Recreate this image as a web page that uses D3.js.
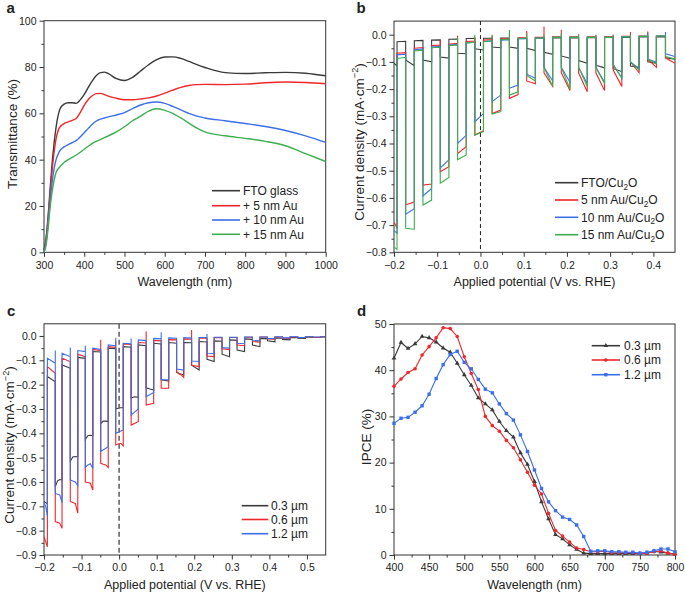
<!DOCTYPE html>
<html><head><meta charset="utf-8">
<script src="https://cdn.jsdelivr.net/npm/d3@7"></script>
<style>
body{margin:0;background:#fff}
text{font-family:"Liberation Sans",Arial,sans-serif;fill:#222}
</style>
</head><body>
<svg id="chart" width="685" height="593"></svg>
<script>
// ---------------- DATA ----------------
// Panel a: transmittance spectra
const aWl   = [300,305,310,315,320,325,330,335,340,350,360,370,380,390,400,410,420,430,440,450,460,480,500,520,540,560,580,600,620,640,660,680,700,750,800,850,900,950,1000];
const aFTO  = [1,6,15,27,38,47,54,59,62,64,64.6,64.6,64.3,65.8,68.2,71.2,74,76.3,77.6,77.8,77.1,75,74.2,75.5,78.3,81,83.2,84.3,84.4,83.7,82.4,81,79.8,77.6,77.2,77.5,77.7,77.3,76.2];
const aAu5  = [0.5,5,14,25,35,43,49,52.5,54.2,55.6,56.3,57,57.8,60.3,63.5,66,67.6,68.5,68.6,68.1,67.4,66.5,65.9,65.9,66.2,66.7,67.5,68.7,70,71.2,72,72.4,72.5,72.4,72.6,73.2,73.5,73.3,72.8];
const aAu10 = [0,4,12,22,30,36,40,42.3,44,45.5,46.5,47.3,48.2,49.8,51.6,53.5,55.3,56.7,57.5,58,58.5,59.3,60.3,62,63.6,64.6,64.9,64.3,63,61.5,60,58.8,58,56.8,55.6,54.3,52.6,50.3,47.5];
const aAu15 = [0,3,10,19,26,31,34.5,36,37,38.8,40,41,42,43.2,44.5,45.8,47,47.9,48.7,49.5,50.3,52,54.2,56.8,58.8,61,62,61.3,60,58,55.8,53.6,52,50.3,49.2,47.9,46,42.6,39.2];
const aLabels = ["FTO glass","+ 5 nm Au","+ 10 nm Au","+ 15 nm Au"];

// Panel b: chopped LSV (light-off / light-on potentials, V vs RHE)
const bOff = [-0.193,-0.153,-0.113,-0.073,-0.033,0.007,0.047,0.087,0.127,0.167,0.207,0.247,0.287,0.327,0.367,0.407];
const bOn  = [-0.173,-0.133,-0.093,-0.053,-0.013,0.027,0.067,0.107,0.147,0.187,0.227,0.267,0.307,0.347,0.387,0.428];
const bFtoLight = [[-0.105,-0.115],[-0.093,-0.114],[-0.093,-0.1],[-0.082,-0.086],[-0.068,-0.07],[-0.052,-0.056],[-0.045,-0.048],[-0.045,-0.05],[-0.05,-0.058],[-0.065,-0.072],[-0.078,-0.087],[-0.095,-0.105],[-0.112,-0.122],[-0.125,-0.135],[-0.115,-0.12],[-0.1,-0.105],[-0.085,-0.09]];
const bFtoDark  = [[-0.026,-0.024],[-0.022,-0.021],[-0.02,-0.019],[-0.017,-0.016],[-0.014,-0.013],[-0.013,-0.013],[-0.012,-0.012],[-0.012,-0.012],[-0.012,-0.012],[-0.012,-0.012],[-0.012,-0.012],[-0.011,-0.011],[-0.01,-0.01],[-0.01,-0.01],[-0.008,-0.008],[-0.008,-0.008]];
const bFtoSpike = [];
const bAu5Light = [[-0.69,-0.71],[-0.625,-0.615],[-0.553,-0.549],[-0.504,-0.485],[-0.437,-0.412],[-0.369,-0.353],[-0.29,-0.277],[-0.234,-0.22],[-0.17,-0.18],[-0.14,-0.19],[-0.14,-0.205],[-0.14,-0.21],[-0.14,-0.205],[-0.13,-0.19],[-0.1,-0.14],[-0.09,-0.12],[-0.085,-0.105]];
const bAu5Dark  = [[-0.068,-0.066],[-0.05,-0.047],[-0.04,-0.038],[-0.035,-0.032],[-0.025,-0.023],[-0.02,-0.018],[-0.015,-0.014],[-0.012,-0.011],[-0.01,-0.01],[-0.008,-0.008],[-0.008,-0.008],[-0.008,-0.008],[-0.008,-0.008],[-0.006,-0.006],[-0.005,-0.005],[-0.005,-0.005]];
const bAu5Spike = [null,null,-0.02,-0.004,-0.01,-0.003,0.005,0.014,0.03,0.018,0.002,0.0,0.0,0.01,0.012,0.0];
const bAu10Light = [[-0.72,-0.73],[-0.66,-0.64],[-0.593,-0.565],[-0.49,-0.46],[-0.40,-0.37],[-0.32,-0.29],[-0.246,-0.222],[-0.197,-0.185],[-0.145,-0.16],[-0.12,-0.17],[-0.12,-0.175],[-0.12,-0.18],[-0.12,-0.175],[-0.11,-0.16],[-0.1,-0.125],[-0.09,-0.1],[-0.07,-0.08]];
const bAu10Dark  = [[-0.074,-0.072],[-0.055,-0.052],[-0.045,-0.043],[-0.038,-0.036],[-0.03,-0.028],[-0.025,-0.023],[-0.02,-0.018],[-0.015,-0.014],[-0.012,-0.012],[-0.01,-0.01],[-0.01,-0.01],[-0.01,-0.01],[-0.01,-0.01],[-0.008,-0.008],[-0.006,-0.006],[-0.005,-0.005]];
const bAu10Spike = [null,null,null,null,null,null,null,null,null,null,null,null,null,null,0.008,0.01];
const bAu15Light = [[-0.78,-0.79],[-0.712,-0.715],[-0.626,-0.608],[-0.546,-0.525],[-0.46,-0.442],[-0.369,-0.356],[-0.292,-0.283],[-0.222,-0.21],[-0.15,-0.17],[-0.12,-0.19],[-0.12,-0.2],[-0.12,-0.19],[-0.12,-0.18],[-0.11,-0.16],[-0.1,-0.13],[-0.09,-0.105],[-0.08,-0.09]];
const bAu15Dark  = [[-0.087,-0.083],[-0.06,-0.057],[-0.048,-0.046],[-0.04,-0.038],[-0.03,-0.028],[-0.025,-0.023],[-0.018,-0.017],[-0.015,-0.014],[-0.012,-0.012],[-0.01,-0.01],[-0.01,-0.01],[-0.01,-0.01],[-0.01,-0.01],[-0.008,-0.008],[-0.006,-0.006],[-0.005,-0.005]];
const bAu15Spike = [null,null,null,-0.01,0.0,0.0,0.017,0.005,0.0,0.005,0.0,-0.002,0.0,0.0,0.0,0.0];

// Panel c: chopped LSV for Cu2O thickness (values sampled evenly across each light period)
const cOff = [-0.191,-0.152,-0.110,-0.070,-0.029,0.011,0.051,0.092,0.132,0.172,0.213,0.253,0.294,0.334,0.375,0.415,0.455,0.496,0.536];
const cOn  = [-0.170,-0.130,-0.090,-0.049,-0.009,0.032,0.072,0.112,0.153,0.193,0.234,0.274,0.314,0.355,0.395,0.435,0.476,0.516];
const c03Light = [[-0.68,-0.685,-0.69],[-0.62,-0.595,-0.59,-0.592],[-0.515,-0.497,-0.495,-0.497],[-0.425,-0.41,-0.408,-0.41],[-0.36,-0.35,-0.35,-0.352],[-0.3,-0.295,-0.295],[-0.255,-0.25,-0.252],[-0.213,-0.218,-0.222],[-0.18,-0.185],[-0.15,-0.16],[-0.12,-0.14],[-0.096,-0.105],[-0.075,-0.085],[-0.058,-0.064],[-0.037,-0.044],[-0.02,-0.024],[-0.014,-0.016],[-0.009,-0.01],[-0.006,-0.006]];
const c03Dark  = [[-0.167,-0.188],[-0.119,-0.133],[-0.088,-0.092],[-0.064,-0.066],[-0.05,-0.052],[-0.044,-0.046],[-0.037,-0.04],[-0.03,-0.033],[-0.027,-0.03],[-0.027,-0.028],[-0.023,-0.025],[-0.02,-0.022],[-0.016,-0.018],[-0.012,-0.014],[-0.01,-0.011],[-0.008,-0.009],[-0.006,-0.007],[-0.005,-0.005],[-0.004,-0.004]];
const c03Spike = [];
const c06Light = [[-0.825,-0.845,-0.866],[-0.763,-0.766,-0.77,-0.79],[-0.68,-0.684,-0.688,-0.728],[-0.6,-0.602,-0.605,-0.633],[-0.523,-0.527,-0.53,-0.54],[-0.448,-0.444,-0.441,-0.452],[-0.366,-0.352],[-0.284,-0.277],[-0.215,-0.215],[-0.147,-0.155,-0.16,-0.17],[-0.12,-0.126],[-0.082,-0.085],[-0.053,-0.056],[-0.037,-0.04],[-0.023,-0.025],[-0.012,-0.013],[-0.009,-0.01],[-0.006,-0.007],[-0.005,-0.005]];
const c06Dark  = [[-0.126,-0.153],[-0.092,-0.105],[-0.075,-0.085],[-0.055,-0.06],[-0.044,-0.047],[-0.033,-0.035],[-0.027,-0.029],[-0.018,-0.02],[-0.015,-0.016],[-0.012,-0.013],[-0.008,-0.009],[-0.007,-0.007],[-0.006,-0.006],[-0.005,-0.005],[-0.004,-0.004],[-0.004,-0.004],[-0.004,-0.004],[-0.003,-0.003],[-0.003,-0.003]];
const c06Spike = [null,null,null,-0.016,-0.02,null,0.018,null,null,0.025,null,null,null,null,null,null,null,null];
const c12Light = [[-0.685,-0.7,-0.74],[-0.647,-0.65,-0.653,-0.685],[-0.592,-0.596,-0.6,-0.615],[-0.54,-0.53,-0.525,-0.545],[-0.475,-0.455],[-0.4,-0.386],[-0.325,-0.3],[-0.25,-0.232],[-0.18,-0.18],[-0.136,-0.14],[-0.103,-0.105],[-0.071,-0.072],[-0.048,-0.05],[-0.03,-0.032],[-0.019,-0.02],[-0.01,-0.011],[-0.008,-0.008],[-0.006,-0.006],[-0.004,-0.004]];
const c12Dark  = [[-0.092,-0.112],[-0.071,-0.085],[-0.06,-0.064],[-0.05,-0.055],[-0.037,-0.04],[-0.03,-0.032],[-0.016,-0.019],[-0.01,-0.012],[-0.008,-0.009],[-0.007,-0.008],[-0.006,-0.006],[-0.005,-0.005],[-0.005,-0.005],[-0.004,-0.004],[-0.004,-0.004],[-0.003,-0.003],[-0.003,-0.003],[-0.003,-0.003],[-0.003,-0.003]];
const c12Spike = [-0.06,-0.047,-0.04,null,-0.007,-0.01,null,0.015,null,null,0.008,null,null,null,null,null,null,null];
const cLabels = ["0.3 µm","0.6 µm","1.2 µm"];

// Panel d: IPCE
const dWl  = [400,410,420,430,440,450,460,470,480,490,500,510,520,530,540,550,560,570,580,590,600,610,620,630,640,650,660,670,680,690,700,710,720,730,740,750,760,770,780,790,800];
const d03  = [42.6,46.0,44.7,45.7,47.3,47.0,46.1,44.8,43.9,41.5,39.0,36.7,34.0,32.7,31.4,28.9,26.9,25.5,22.1,19.6,15.9,11.5,7.8,4.4,3.5,2.2,1.2,0.4,0.3,0.3,0.3,0.3,0.3,0.3,0.3,0.3,0.4,0.8,0.6,0.4,0.2];
const d06  = [36.5,38.1,39.5,40.3,43.3,45.1,47.0,49.2,49.0,47.3,42.9,39.3,35.8,30.0,28.0,26.8,24.8,23.2,20.6,17.9,15.1,13.2,9.0,5.3,4.1,2.8,1.5,1.2,0.7,0.7,0.8,0.5,0.5,0.5,0.5,0.3,0.4,0.7,0.9,0.4,0.2];
const d12  = [28.5,29.6,29.8,30.9,32.3,34.8,38.2,41.2,43.4,44.1,41.7,40.3,38.0,35.9,35.1,32.7,30.6,29.2,26.0,22.4,18.4,14.4,11.5,9.6,8.2,7.7,6.5,4.0,0.8,0.9,0.9,0.7,0.7,0.6,0.6,0.4,0.6,0.9,1.3,1.3,0.7];

// ---------------- STYLE ----------------
const COL = {k:"#3a3a3a", r:"#f0262b", b:"#3b6fe9", g:"#3cae4f"};
const FONT = '"Liberation Sans",Arial,sans-serif';
const YT = 13.5;
const svg = d3.select("#chart");

function drawAxes(g, xs, ys, o){
  const [x0,x1] = xs.range(), [y0,y1] = ys.range();
  const style = s => { s.select(".domain").remove(); s.attr("font-size",10.5).attr("font-family",FONT);
    s.selectAll("line").attr("stroke","#333"); s.selectAll("text").attr("fill","#222"); };
  g.append("g").attr("transform",`translate(0,${y0})`)
    .call(d3.axisBottom(xs).tickValues(o.xMinor).tickSize(2.5).tickFormat("")).call(style);
  g.append("g").attr("transform",`translate(0,${y0})`)
    .call(d3.axisBottom(xs).tickValues(o.xTicks).tickSize(4.5).tickPadding(4.5).tickFormat(o.xFmt)).call(style);
  g.append("g").attr("transform",`translate(${x0},0)`)
    .call(d3.axisLeft(ys).tickValues(o.yMinor).tickSize(2.5).tickFormat("")).call(style);
  g.append("g").attr("transform",`translate(${x0},0)`)
    .call(d3.axisLeft(ys).tickValues(o.yTicks).tickSize(4.5).tickPadding(3).tickFormat(o.yFmt)).call(style);
  g.append("rect").attr("x",x0).attr("y",y1).attr("width",x1-x0).attr("height",y0-y1)
    .attr("fill","none").attr("stroke","#333").attr("stroke-width",1);
}
function titles(g, xs, ys, xt, xtY, ytX, ytY, yParts, letter, lx, ly){
  const [x0,x1] = xs.range();
  g.append("text").attr("x",(x0+x1)/2).attr("y",xtY).attr("text-anchor","middle").attr("font-size",12.5).text(xt);
  const t = g.append("text").attr("transform",`translate(${ytX},${ytY}) rotate(-90)`).attr("text-anchor","middle").attr("font-size",YT);
  rich(t, yParts, YT);
  g.append("text").attr("x",lx).attr("y",ly).attr("font-size",15).attr("font-weight","bold").text(letter);
}
function rich(t, parts, size){
  parts.forEach(p=>{
    const s = t.append("tspan").text(p.t);
    if(p.sub){ s.attr("font-size",size*0.68).attr("dy",size*0.22); }
    else if(p.sup){ s.attr("font-size",size*0.68).attr("dy",-size*0.38); }
    if(p.back) s.attr("dy",p.back*size);
  });
}
function legend(g, x0, x1, tx, rows, size){
  rows.forEach(r=>{
    g.append("line").attr("x1",x0).attr("x2",x1).attr("y1",r.y).attr("y2",r.y).attr("stroke",r.c).attr("stroke-width",1.6);
    if(r.sym) r.sym(g,(x0+x1)/2,r.y);
    const t = g.append("text").attr("x",tx).attr("y",r.y+4.3).attr("font-size",size);
    rich(t, r.parts, size);
  });
}
// builds the chopped-light trace: light period, dark period, optional transient at light-on, ...
function chopPoints(xmin,xmax,offs,ons,light,dark,spikes){
  const pts=[];
  const addLight=(v,a,b)=>{ v.forEach((val,i)=>pts.push([a+(b-a)*i/(v.length-1),val])); };
  addLight(light[0],xmin,offs[0]);
  for(let k=0;k<offs.length;k++){
    const end = k<ons.length ? ons[k] : xmax;
    pts.push([offs[k],dark[k][0]]);
    pts.push([end,dark[k][1]]);
    if(k<ons.length){
      if(spikes[k]!=null) pts.push([end,spikes[k]]);
      addLight(light[k+1],ons[k],k+1<offs.length?offs[k+1]:xmax);
    }
  }
  return pts;
}
const cu2o = pre => [{t:pre+"Cu"},{t:"2",sub:true},{t:"O",back:-0.22}];
const cdTitle = [{t:"Current density (mA·cm"},{t:"−2",sup:true},{t:")",back:0.38}];

// ---------------- PANEL A ----------------
{
  const g = svg.append("g");
  const xs = d3.scaleLinear().domain([300,1000]).range([44,325.7]);
  const ys = d3.scaleLinear().domain([0,100]).range([252.3,20.7]);
  drawAxes(g,xs,ys,{xTicks:d3.range(300,1001,100),xMinor:d3.range(350,1000,100),xFmt:d3.format("d"),
    yTicks:d3.range(0,101,20),yMinor:d3.range(10,100,20),yFmt:d3.format("d")});
  const ln = d3.line().x((d,i)=>xs(aWl[i])).y(d=>ys(d)).curve(d3.curveMonotoneX);
  [[aFTO,COL.k],[aAu5,COL.r],[aAu10,COL.b],[aAu15,COL.g]].forEach(([s,c])=>{
    g.append("path").attr("d",ln(s)).attr("fill","none").attr("stroke",c).attr("stroke-width",1.4);
  });
  legend(g,212,240,243,[
    {y:190.7,c:COL.k,parts:[{t:aLabels[0]}]},
    {y:205.7,c:COL.r,parts:[{t:aLabels[1]}]},
    {y:220,c:COL.b,parts:[{t:aLabels[2]}]},
    {y:234.3,c:COL.g,parts:[{t:aLabels[3]}]}],12);
  titles(g,xs,ys,"Wavelength (nm)",286,16.5,134,[{t:"Transmittance (%)"}],"a",6.5,12.5);
}

// ---------------- PANEL B ----------------
{
  const g = svg.append("g");
  const xs = d3.scaleLinear().domain([-0.2,0.45]).range([394,675]);
  const ys = d3.scaleLinear().domain([-0.8,0.05]).range([252.3,21.1]);
  drawAxes(g,xs,ys,{xTicks:[-0.2,-0.1,0,0.1,0.2,0.3,0.4],xMinor:[-0.15,-0.05,0.05,0.15,0.25,0.35],xFmt:d3.format(".1f"),
    yTicks:[-0.8,-0.7,-0.6,-0.5,-0.4,-0.3,-0.2,-0.1,0],yMinor:[-0.75,-0.65,-0.55,-0.45,-0.35,-0.25,-0.15,-0.05],yFmt:d3.format(".1f")});
  svg.append("clipPath").attr("id","clipB").append("rect").attr("x",394).attr("y",21.1).attr("width",281).attr("height",231.2);
  const pg = g.append("g").attr("clip-path","url(#clipB)");
  const ln = d3.line().x(d=>xs(d[0])).y(d=>ys(d[1]));
  [[bFtoLight,bFtoDark,bFtoSpike,COL.k],[bAu5Light,bAu5Dark,bAu5Spike,COL.r],
   [bAu10Light,bAu10Dark,bAu10Spike,COL.b],[bAu15Light,bAu15Dark,bAu15Spike,COL.g]].forEach(([L,D,S,c])=>{
    pg.append("path").attr("d",ln(chopPoints(-0.2,0.45,bOff,bOn,L,D,S))).attr("fill","none").attr("stroke",c).attr("stroke-width",1.1);
  });
  g.append("line").attr("x1",xs(0)).attr("x2",xs(0)).attr("y1",21.1).attr("y2",252.3)
    .attr("stroke","#222").attr("stroke-width",1).attr("stroke-dasharray","4,3");
  legend(g,555,578.3,581,[
    {y:182.7,c:COL.k,parts:cu2o("FTO/")},
    {y:200,c:COL.r,parts:cu2o("5 nm Au/")},
    {y:217.3,c:COL.b,parts:cu2o("10 nm Au/")},
    {y:234.7,c:COL.g,parts:cu2o("15 nm Au/")}],12);
  titles(g,xs,ys,"Applied potential (V vs. RHE)",286,363.5,142,cdTitle,"b",356.5,12.7);
}

// ---------------- PANEL C ----------------
{
  const g = svg.append("g");
  const xs = d3.scaleLinear().domain([-0.2,0.55]).range([44,325.7]);
  const ys = d3.scaleLinear().domain([-0.9,0.05]).range([555,323.8]);
  drawAxes(g,xs,ys,{xTicks:[-0.2,-0.1,0,0.1,0.2,0.3,0.4,0.5],xMinor:[-0.15,-0.05,0.05,0.15,0.25,0.35,0.45],xFmt:d3.format(".1f"),
    yTicks:[-0.9,-0.8,-0.7,-0.6,-0.5,-0.4,-0.3,-0.2,-0.1,0],yMinor:[-0.85,-0.75,-0.65,-0.55,-0.45,-0.35,-0.25,-0.15,-0.05],yFmt:d3.format(".1f")});
  svg.append("clipPath").attr("id","clipC").append("rect").attr("x",44).attr("y",323.8).attr("width",281.7).attr("height",231.2);
  const pg = g.append("g").attr("clip-path","url(#clipC)");
  const ln = d3.line().x(d=>xs(d[0])).y(d=>ys(d[1]));
  [[c03Light,c03Dark,c03Spike,COL.k],[c06Light,c06Dark,c06Spike,COL.r],[c12Light,c12Dark,c12Spike,COL.b]].forEach(([L,D,S,c])=>{
    pg.append("path").attr("d",ln(chopPoints(-0.2,0.55,cOff,cOn,L,D,S))).attr("fill","none").attr("stroke",c).attr("stroke-width",1.1);
  });
  g.append("line").attr("x1",xs(0)).attr("x2",xs(0)).attr("y1",323.8).attr("y2",555)
    .attr("stroke","#666").attr("stroke-width",1.6).attr("stroke-dasharray","5,3");
  legend(g,241.7,268.3,271,[
    {y:505.7,c:COL.k,parts:[{t:cLabels[0]}]},
    {y:519.5,c:COL.r,parts:[{t:cLabels[1]}]},
    {y:533.7,c:COL.b,parts:[{t:cLabels[2]}]}],12);
  titles(g,xs,ys,"Applied potential (V vs. RHE)",589,14,445,cdTitle,"c",7,315.7);
}

// ---------------- PANEL D ----------------
{
  const g = svg.append("g");
  const xs = d3.scaleLinear().domain([400,800]).range([394,675]);
  const ys = d3.scaleLinear().domain([0,50]).range([555,324]);
  drawAxes(g,xs,ys,{xTicks:d3.range(400,801,50),xMinor:d3.range(425,800,50),xFmt:d3.format("d"),
    yTicks:d3.range(0,51,10),yMinor:d3.range(5,50,10),yFmt:d3.format("d")});
  const ln = d3.line().x((d,i)=>xs(dWl[i])).y(d=>ys(d));
  const tri = (sel,x,y,c)=>sel.append("path").attr("d",d3.symbol(d3.symbolTriangle,10)()).attr("transform",`translate(${x},${y})`).attr("fill",c);
  const cir = (sel,x,y,c)=>sel.append("circle").attr("cx",x).attr("cy",y).attr("r",1.8).attr("fill",c);
  const sq  = (sel,x,y,c)=>sel.append("rect").attr("x",x-1.7).attr("y",y-1.7).attr("width",3.4).attr("height",3.4).attr("fill",c);
  [[d03,COL.k,tri],[d06,COL.r,cir],[d12,COL.b,sq]].forEach(([s,c,m])=>{
    g.append("path").attr("d",ln(s)).attr("fill","none").attr("stroke",c).attr("stroke-width",1.1);
    const mg = g.append("g");
    s.forEach((v,i)=>m(mg,xs(dWl[i]),ys(v),c));
  });
  legend(g,591.7,620,624,[
    {y:345.7,c:COL.k,parts:[{t:cLabels[0]}],sym:(s,x,y)=>tri(s,x,y,COL.k)},
    {y:360,c:COL.r,parts:[{t:cLabels[1]}],sym:(s,x,y)=>cir(s,x,y,COL.r)},
    {y:374.7,c:COL.b,parts:[{t:cLabels[2]}],sym:(s,x,y)=>sq(s,x,y,COL.b)}],12);
  titles(g,xs,ys,"Wavelength (nm)",588.5,371,437,[{t:"IPCE (%)"}],"d",357,315.7);
}
</script>
</body></html>
